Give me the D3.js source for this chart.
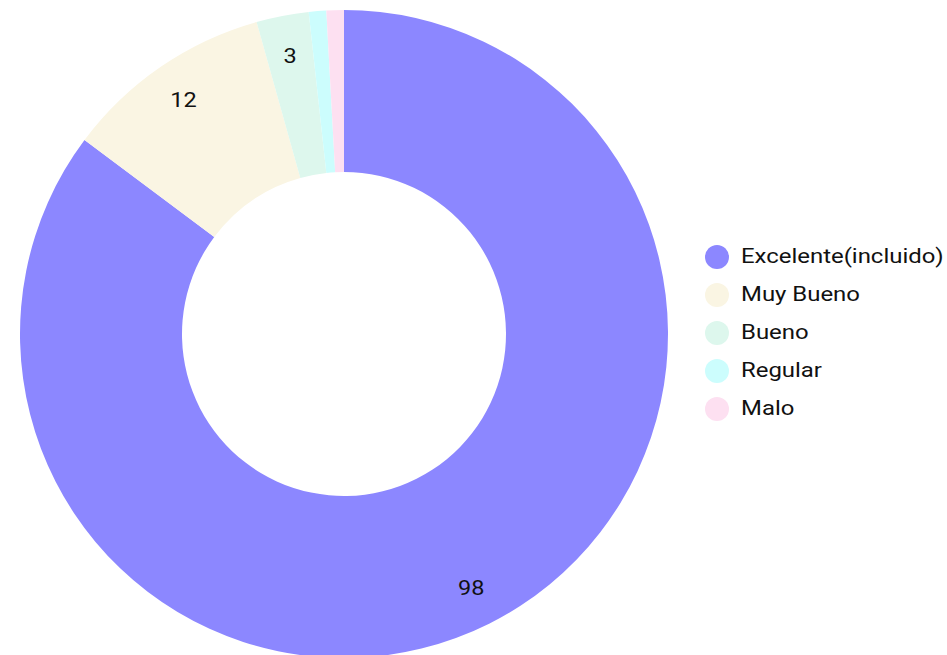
<!DOCTYPE html>
<html>
<head>
<meta charset="utf-8">
<script src="https://cdn.jsdelivr.net/npm/d3@7"></script>
<style>
  body { margin: 0; background: #fff; }
  text { font-family: Roboto, "Noto Sans", sans-serif; }
</style>
</head>
<body>
<div class="svg-container"></div>
<script>
var width = 947;
var height = 655;

var categories = ["Excelente(incluido)", "Muy Bueno", "Bueno", "Regular", "Malo"];
var values = [98, 12, 3, 1, 1];
var colors = ["#8c87ff", "#faf5e3", "#ddf7ed", "#ccfdfd", "#fde0f1"];

var center = { "x": 344, "y": 334 };
var outerR = 324;
var innerR = 162;
var labelR = 284;

var svg = d3.select(".svg-container")
              .append("svg")
              .attr("width", width)
              .attr("height", height);

var g = svg.append("g")
              .attr("transform", "translate(" + center.x + "," + center.y + ")");

var data = categories.map(function(c, i) { return { "name": c, "value": values[i], "color": colors[i] }; });

var pie = d3.pie()
              .sort(null)
              .value(function(d) { return d.value; });

var arc = d3.arc()
              .innerRadius(innerR)
              .outerRadius(outerR);

var labelArc = d3.arc()
              .innerRadius(labelR)
              .outerRadius(labelR);

var arcs = pie(data);

g.selectAll("path")
    .data(arcs)
    .enter()
    .append("path")
    .attr("d", arc)
    .attr("fill", function(d) { return d.data.color; });

// small slices get no label
// text in the original is a bit wide, so stretch it horizontally
g.selectAll("text.val")
    .data(arcs.filter(function(d) { return d.data.value > 2; }))
    .enter()
    .append("text")
    .attr("class", "val")
    .attr("transform", function(d) { return "translate(" + labelArc.centroid(d) + ") scale(1.12,1)"; })
    .attr("text-anchor", "middle")
    .attr("dy", "0.35em")
    .attr("font-size", 21)
    .attr("fill", "#111")
    .text(function(d) { return d.data.value; });

// legend
var legend = svg.append("g")
              .attr("transform", "translate(717,257)");

var rows = legend.selectAll("g")
    .data(data)
    .enter()
    .append("g")
    .attr("transform", function(d, i) { return "translate(0," + (i * 38) + ")"; });

rows.append("circle")
    .attr("r", 12)
    .attr("fill", function(d) { return d.color; });

rows.append("text")
    .attr("transform", "translate(24,6) scale(1.14,1)")
    .attr("font-size", 21)
    .attr("fill", "#111")
    .text(function(d) { return d.name; });
</script>
</body>
</html>
